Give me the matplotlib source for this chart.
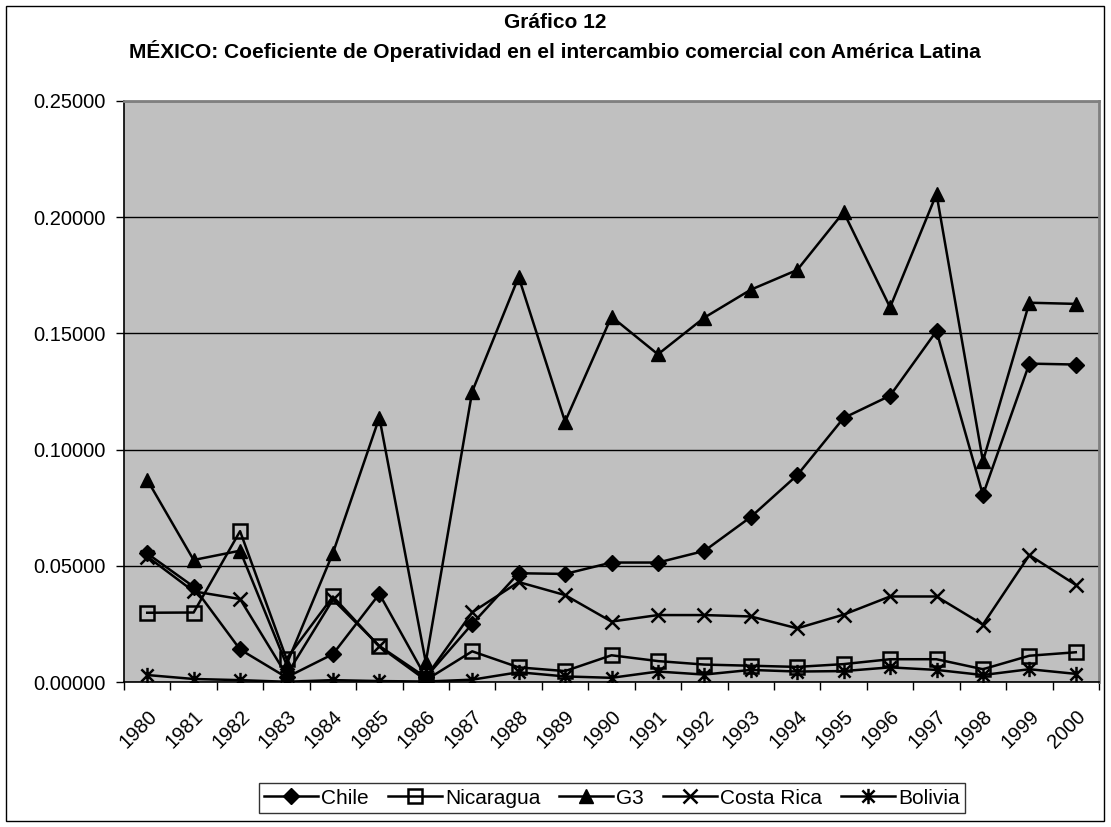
import matplotlib
matplotlib.use("Agg")
import matplotlib.pyplot as plt
import matplotlib.transforms as mtransforms
from matplotlib.path import Path
from matplotlib.patches import Rectangle
from matplotlib.ticker import FormatStrFormatter, FixedLocator

plt.rcParams['font.family'] = ['Liberation Sans', 'DejaVu Sans']

years = [str(y) for y in range(1980, 2001)]
chile = [0.0553, 0.0410, 0.0140, 0.0020, 0.0120, 0.0379, 0.0020, 0.0250, 0.0468, 0.0465, 0.0514,
         0.0514, 0.0564, 0.0710, 0.0890, 0.1136, 0.1232, 0.1510, 0.0805, 0.1370, 0.1366]
nicaragua = [0.0298, 0.0299, 0.0649, 0.0100, 0.0368, 0.0153, 0.0008, 0.0132, 0.0063, 0.0047, 0.0115,
             0.0090, 0.0075, 0.0070, 0.0065, 0.0077, 0.0098, 0.0098, 0.0055, 0.0113, 0.0128]
g3 = [0.0870, 0.0525, 0.0565, 0.0075, 0.0555, 0.1138, 0.0085, 0.1250, 0.1743, 0.1120, 0.1572,
      0.1410, 0.1568, 0.1688, 0.1773, 0.2022, 0.1612, 0.2100, 0.0950, 0.1632, 0.1627]
costa_rica = [0.0540, 0.0390, 0.0357, 0.0030, 0.0355, 0.0155, 0.0020, 0.0300, 0.0430, 0.0374, 0.0260,
              0.0288, 0.0288, 0.0282, 0.0231, 0.0290, 0.0368, 0.0368, 0.0247, 0.0546, 0.0418]
bolivia = [0.0030, 0.0013, 0.0008, 0.0001, 0.0008, 0.0004, 0.0002, 0.0010, 0.0042, 0.0024, 0.0018,
           0.0045, 0.0032, 0.0052, 0.0045, 0.0047, 0.0063, 0.0052, 0.0030, 0.0055, 0.0035]
series_names = ['Chile', 'Nicaragua', 'G3', 'Costa Rica', 'Bolivia']

W, H = 1111, 827
fig = plt.figure(figsize=(W / 100, H / 100), dpi=100)

# outer chart frame
fig.patches.append(Rectangle((6 / W, 1 - 821 / H), (1104 - 6) / W, (821 - 6) / H,
                             transform=fig.transFigure, fill=False, edgecolor='black', linewidth=1.0))

L, R, T, B = 124, 1099, 101, 682
ax = fig.add_axes([L / W, 1 - B / H, (R - L) / W, (B - T) / H])
ax.set_facecolor('#C0C0C0')

# asterisk marker (x plus vertical bar)
ast = Path([(-1, -1), (1, 1), (-1, 1), (1, -1), (0, -1.25), (0, 1.25)],
           [Path.MOVETO, Path.LINETO, Path.MOVETO, Path.LINETO, Path.MOVETO, Path.LINETO])

x = list(range(len(years)))
lw = 1.8
ax.plot(x, chile, color='black', lw=lw, marker='D', ms=8, mfc='black', mec='black', label=series_names[0], zorder=5)
ax.plot(x, nicaragua, color='black', lw=lw, marker='s', ms=10, mfc='none', mec='black', mew=1.8, label=series_names[1], zorder=5)
ax.plot(x, g3, color='black', lw=lw, marker='^', ms=10, mfc='black', mec='black', label=series_names[2], zorder=5)
ax.plot(x, costa_rica, color='black', lw=lw, marker='x', ms=10, mew=1.8, mec='black', label=series_names[3], zorder=5)
ax.plot(x, bolivia, color='black', lw=lw, marker=ast, ms=11, mew=1.8, mec='black', label=series_names[4], zorder=5)

ax.set_xlim(-0.5, len(years) - 0.5)
ax.set_ylim(0, 0.25)
ax.set_yticks([0, 0.05, 0.10, 0.15, 0.20, 0.25])
ax.yaxis.set_major_formatter(FormatStrFormatter('%.5f'))
ax.yaxis.grid(True, color='black', linewidth=1.0)
ax.set_axisbelow(True)

ax.set_xticks(x)
ax.set_xticklabels(years, rotation=45, ha='right', va='top', rotation_mode='anchor')
shift = mtransforms.ScaledTranslation(-18 / 100, 0, fig.dpi_scale_trans)
for lab in ax.get_xticklabels():
    lab.set_transform(lab.get_transform() + shift)
ax.xaxis.set_minor_locator(FixedLocator([i - 0.5 for i in range(len(years) + 1)]))
ax.tick_params(axis='x', which='major', length=0, pad=18, labelsize=14.5)
ax.tick_params(axis='x', which='minor', length=6, width=1, color='black', direction='out')
ax.tick_params(axis='y', which='major', length=6, width=1, direction='out', labelsize=14.5, pad=7)

for s in ['left', 'bottom']:
    ax.spines[s].set_color('black')
    ax.spines[s].set_linewidth(1.2)
for s in ['top', 'right']:
    ax.spines[s].set_color('#808080')
    ax.spines[s].set_linewidth(2.0)

fig.text(555 / W, 1 - 23 / H, 'Gráfico 12', ha='center', va='center', fontsize=15, fontweight='bold')
fig.text(555 / W, 1 - 51 / H, 'MÉXICO: Coeficiente de Operatividad en el intercambio comercial con América Latina',
         ha='center', va='center', fontsize=15, fontweight='bold')

leg = fig.legend(loc='center', bbox_to_anchor=(612 / W, 1 - 798 / H), ncol=5, frameon=True,
                 fontsize=15, handlelength=2.6, handletextpad=0.15, columnspacing=0.9,
                 borderpad=0.25, fancybox=False, edgecolor='black')
leg.get_frame().set_linewidth(1.0)

fig.savefig('out.png', dpi=100)
